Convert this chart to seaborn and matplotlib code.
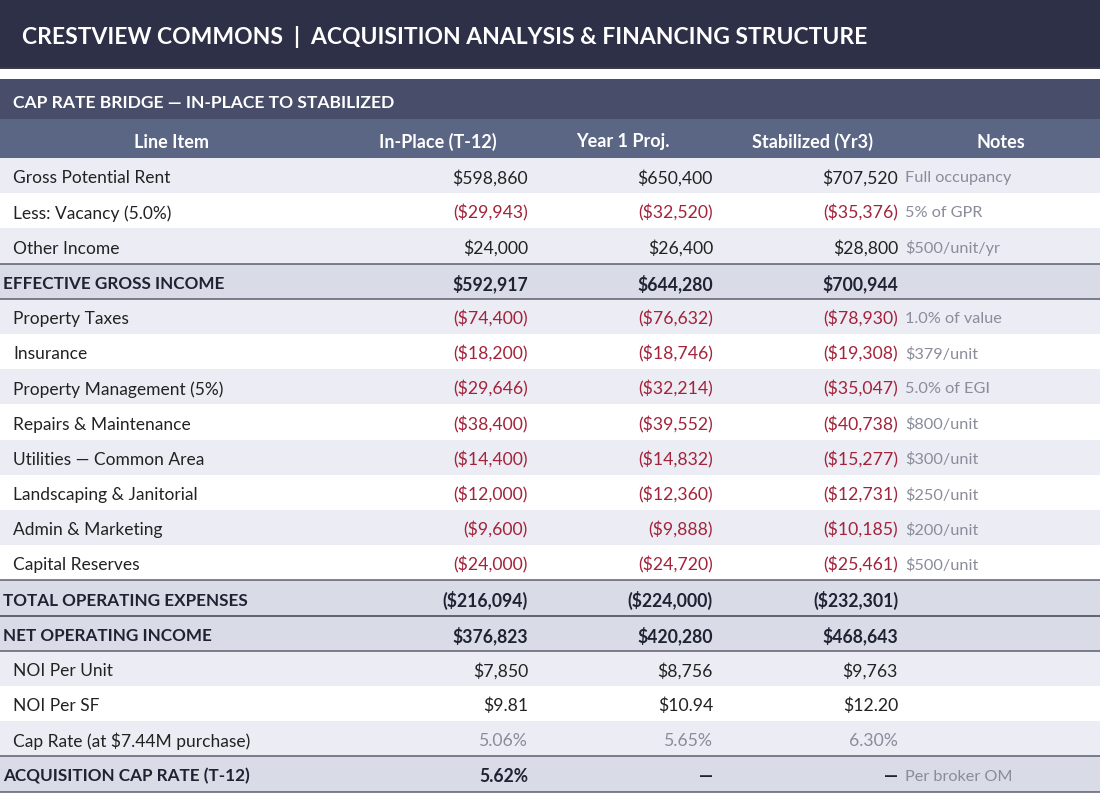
import matplotlib
matplotlib.use("Agg")
import matplotlib.pyplot as plt
import seaborn as sns
from matplotlib.patches import Rectangle

# ---------------- data ----------------
title = "CRESTVIEW COMMONS  |  ACQUISITION ANALYSIS & FINANCING STRUCTURE"
section = "CAP RATE BRIDGE \u2014 IN-PLACE TO STABILIZED"
columns = ["Line Item", "In-Place (T-12)", "Year 1 Proj.", "Stabilized (Yr3)", "Notes"]

line_items = [
    "Gross Potential Rent", "Less: Vacancy (5.0%)", "Other Income",
    "EFFECTIVE GROSS INCOME",
    "Property Taxes", "Insurance", "Property Management (5%)",
    "Repairs & Maintenance", "Utilities \u2014 Common Area",
    "Landscaping & Janitorial", "Admin & Marketing", "Capital Reserves",
    "TOTAL OPERATING EXPENSES", "NET OPERATING INCOME",
    "NOI Per Unit", "NOI Per SF", "Cap Rate (at $7.44M purchase)",
    "ACQUISITION CAP RATE (T-12)",
]
row_kind = ["item", "item", "item", "total",
            "item", "item", "item", "item", "item", "item", "item", "item",
            "total", "total", "item", "item", "rate", "total"]
value_fmt = ["usd"] * 15 + ["usd2", "pct", "pct"]

in_place = [598860, -29943, 24000, 592917, -74400, -18200, -29646, -38400,
            -14400, -12000, -9600, -24000, -216094, 376823, 7850, 9.81, 5.06, 5.62]
year1 = [650400, -32520, 26400, 644280, -76632, -18746, -32214, -39552,
         -14832, -12360, -9888, -24720, -224000, 420280, 8756, 10.94, 5.65, None]
stabilized = [707520, -35376, 28800, 700944, -78930, -19308, -35047, -40738,
              -15277, -12731, -10185, -25461, -232301, 468643, 9763, 12.20, 6.30, None]
notes = ["Full occupancy", "5% of GPR", "$500/unit/yr", "",
         "1.0% of value", "$379/unit", "5.0% of EGI", "$800/unit", "$300/unit",
         "$250/unit", "$200/unit", "$500/unit", "", "", "", "", "", "Per broker OM"]

# ---------------- style ----------------
sns.set_theme(style="white")
plt.rcParams["font.family"] = ["Lato", "DejaVu Sans"]

C_TITLE = "#2e3047"
C_SECTION = "#484d69"
C_HEADER = "#5b6684"
C_BAND = "#ececf4"
C_TOTAL = "#d9dbe6"
C_LINE = "#5d5f6e"
C_TEXT = "#222222"
C_TOTAL_TEXT = "#1f2233"
C_RED = "#a3233a"
C_GRAY = "#8a8c9a"

W, H = 1100, 793
DY = 2.5  # text baseline nudge
fig = plt.figure(figsize=(W / 100, H / 100), dpi=100)
ax = fig.add_axes([0, 0, 1, 1])
ax.set_xlim(0, W)
ax.set_ylim(H, 0)
ax.axis("off")

def fmt(v, kind):
    if v is None:
        return "\u2014"
    if kind == "pct":
        return f"{v:.2f}%"
    if kind == "usd2":
        s = f"${abs(v):,.2f}"
    else:
        s = f"${abs(v):,.0f}"
    return f"({s})" if v < 0 else s

# title bar
ax.add_patch(Rectangle((0, 0), W, 67, color=C_TITLE, lw=0))
ax.plot([0, W], [67.5, 67.5], color="#15161f", lw=1.2)
ax.text(22, 34 + DY, title, color="white", fontsize=16.5, fontweight="bold",
        va="center", ha="left")

# section header
ax.add_patch(Rectangle((0, 79), W, 40, color=C_SECTION, lw=0))
ax.text(13, 100 + DY, section, color="white", fontsize=12.6, fontweight="bold",
        va="center", ha="left")

# column header
ax.add_patch(Rectangle((0, 119), W, 39, color=C_HEADER, lw=0))
col_centers = [172, 438, 623, 813, 1001]
for cx, name in zip(col_centers, columns):
    ax.text(cx, 139.5 + DY, name, color="white", fontsize=13, fontweight="bold",
            va="center", ha="center")

# rows
top = 158
rh = 35.2
right_edges = [528, 713, 898]
notes_x = 905
band_toggle = True
for i, (lab, kind) in enumerate(zip(line_items, row_kind)):
    y0 = top + i * rh
    yc = y0 + rh / 2 + DY
    if kind == "total":
        bg = C_TOTAL
        band_toggle = True
    else:
        bg = C_BAND if band_toggle else "white"
        band_toggle = not band_toggle
    ax.add_patch(Rectangle((0, y0), W, rh, color=bg, lw=0))
    bold = kind == "total"
    wt = "bold" if bold else "normal"
    ax.text(3 if bold else 13, yc, lab, color=C_TOTAL_TEXT if bold else C_TEXT,
            fontsize=12.5 if not bold else 12.3, fontweight=wt,
            va="center", ha="left")
    for xr, series in zip(right_edges, [in_place, year1, stabilized]):
        v = series[i]
        if kind == "rate":
            col = C_GRAY
        elif bold:
            col = C_TOTAL_TEXT
        elif v is not None and v < 0:
            col = C_RED
        else:
            col = C_TEXT
        ax.text(xr, yc, fmt(v, value_fmt[i]), color=col, fontsize=12.7,
                fontweight=wt, va="center", ha="right")
    if notes[i]:
        ax.text(notes_x, yc, notes[i], color=C_GRAY, fontsize=11.7,
                va="center", ha="left")
    if kind == "total":
        ax.plot([0, W], [y0, y0], color=C_LINE, lw=1.1)
        ax.plot([0, W], [y0 + rh, y0 + rh], color=C_LINE, lw=1.1)

fig.savefig("out.png", dpi=100)
